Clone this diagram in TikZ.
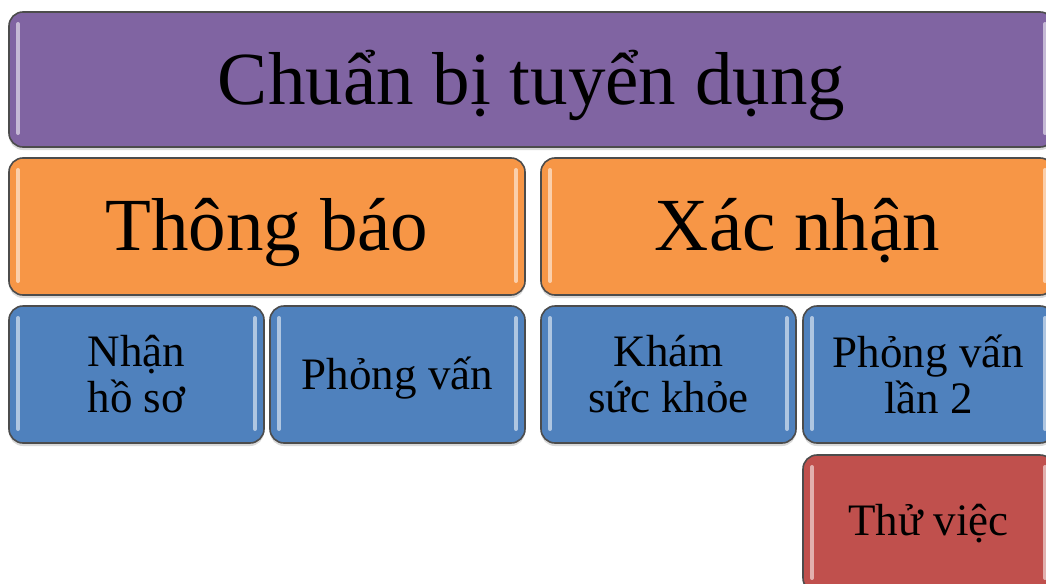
\documentclass[tikz,border=0pt]{standalone}
\usepackage{fontspec}
\setmainfont{Liberation Serif}
\usetikzlibrary{shadows}
\definecolor{planpurple}{HTML}{8064A2}
\definecolor{planorange}{HTML}{F79646}
\definecolor{planblue}{HTML}{4F81BD}
\definecolor{planred}{HTML}{C0504D}

\begin{document}
\begin{tikzpicture}[x=.5pt,y=-.5pt,
    stagebox/.style={draw=black!70,line width=.8pt,rounded corners=7pt,inner sep=0pt,
      align=center,text=black,
      drop shadow={shadow xshift=0pt,shadow yshift=-1.5pt,opacity=.3},
      path picture={\draw[white,opacity=.55,line width=2pt,line cap=round]
        ([shift={(4.5pt,-6pt)}]path picture bounding box.north west) --
        ([shift={(4.5pt,7pt)}]path picture bounding box.south west)
        ([shift={(-4.5pt,-6pt)}]path picture bounding box.north east) --
        ([shift={(-4.5pt,7pt)}]path picture bounding box.south east);}},
    bigbox/.style={stagebox,minimum height=68.5pt,text depth=2pt,
      font=\fontsize{37.5}{40}\selectfont},
    smallbox/.style={stagebox,minimum height=68.5pt,minimum width=127.5pt,
      font=\fontsize{22.5}{23}\selectfont}]
  \useasboundingbox (0,0) rectangle (1046,584);
  \clip (0,0) rectangle (1046,584);
  \node[bigbox,fill=planpurple,minimum width=522.5pt,minimum height=67.5pt] (prep) at (531.5,79.5) {Chuẩn bị tuyển dụng};
  \node[bigbox,fill=planorange,minimum width=258pt] (notify) at (267,226.5) {Thông báo};
  \node[bigbox,fill=planorange,minimum width=256.5pt] (confirm) at (797.5,226.5) {Xác nhận};
  \node[smallbox,fill=planblue] (receive) at (136.5,374.5) {Nhận\\hồ sơ};
  \node[smallbox,fill=planblue,text depth=1pt] (interview) at (397.5,374.5) {Phỏng vấn};
  \node[smallbox,fill=planblue] (health) at (668.5,374.5) {Khám\\sức khỏe};
  \node[smallbox,fill=planblue,minimum width=125.5pt] (interviewtwo) at (928.5,374.5) {Phỏng vấn\\lần 2};
  \node[smallbox,fill=planred,minimum width=125.5pt] (trial) at (928.5,523.5) {Thử việc};
\end{tikzpicture}
\end{document}
